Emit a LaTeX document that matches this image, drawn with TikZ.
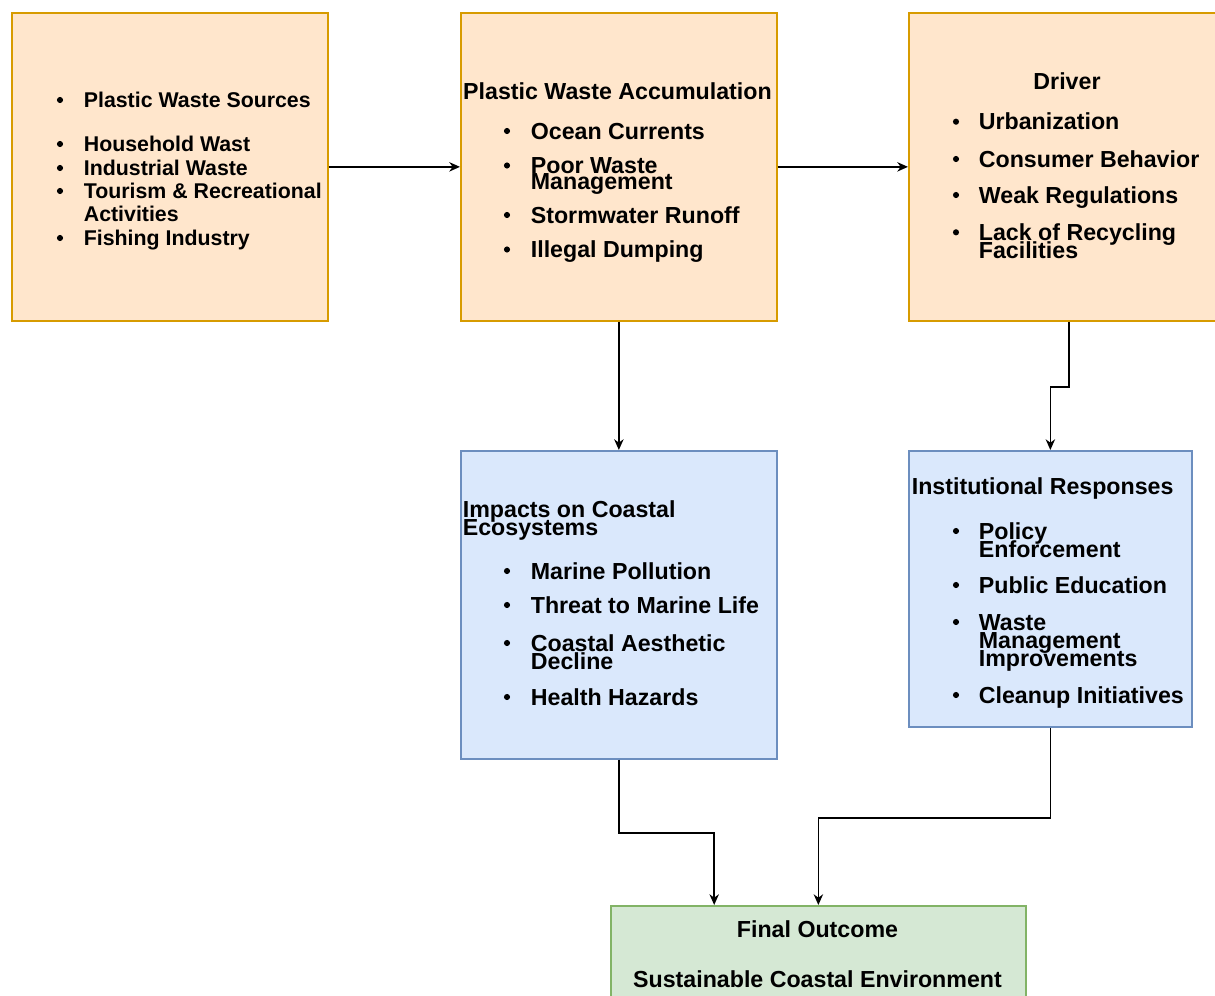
\documentclass[tikz,border=0pt]{standalone}
\usepackage{fontspec}
\setmainfont{Liberation Sans}
\usetikzlibrary{calc,arrows.meta}
\definecolor{orangefill}{HTML}{FFE6CC}
\definecolor{orangeline}{HTML}{D79B00}
\definecolor{bluefill}{HTML}{DAE8FC}
\definecolor{blueline}{HTML}{6C8EBF}
\definecolor{greenfill}{HTML}{D5E8D4}
\definecolor{greenline}{HTML}{82B366}

\begin{document}
\begin{tikzpicture}[x=0.75pt,y=-0.75pt,line width=1.3pt]
                \tikzstyle{box}=[rectangle,anchor=north west,inner sep=0pt,line width=1.3pt]
                \tikzstyle{orangebox}=[box,draw=orangeline,fill=orangefill,minimum width=237pt,minimum height=231pt]
                \tikzstyle{bluebox}=[box,draw=blueline,fill=bluefill]
                \tikzstyle{greenbox}=[box,draw=greenline,fill=greenfill]
                \tikzstyle{item}=[anchor=west,inner sep=0pt,text height=12.4pt,text depth=0pt,font=\bfseries\fontsize{17.4}{18}\selectfont]
                \tikzstyle{smallitem}=[item,text height=11.4pt,font=\bfseries\fontsize{16}{18}\selectfont]
                \tikzstyle{dot}=[circle,fill=black,inner sep=0pt,minimum size=4.6pt]
                \tikzstyle{link}=[-{Stealth[length=8pt,width=7pt,inset=2.5pt]}]
                \useasboundingbox (0,0) rectangle (1215,996);

                % boxes
                \node[orangebox] (Src) at (11,12) {};
                \node[orangebox] (Acc) at (460,12) {};
                \node[orangebox,minimum width=240pt] (Drv) at (908,12) {};
                \node[bluebox,minimum width=237pt,minimum height=231pt] (Imp) at (460,450) {};
                \node[bluebox,minimum width=212.25pt,minimum height=207pt] (Inst) at (908,450) {};
                \node[greenbox,minimum width=311.25pt,minimum height=82pt] (Out) at (610,905) {};

                % sources
                \foreach \y/\txt [count=\i] in {100/Plastic Waste Sources, 144/Household Wast, 168/Industrial Waste, 191/Tourism \& Recreational, 214/Activities, 238/Fishing Industry}
                    \node[smallitem] (Src-\i) at (83,\y) {\txt};
                \foreach \y [count=\i] in {100,144,168,191,238}
                    \node[dot] (Src-b\i) at (60,\y) {};

                % accumulation
                \node[item,anchor=center] (Acc-h) at (617.5,91.5) {Plastic Waste Accumulation};
                \foreach \y/\txt [count=\i] in {131/Ocean Currents, 165.5/Poor Waste, 181/Management, 215/Stormwater Runoff, 249.5/Illegal Dumping}
                    \node[item] (Acc-\i) at (530,\y) {\txt};
                \foreach \y [count=\i] in {131,165.5,215,249.5}
                    \node[dot] (Acc-b\i) at (507,\y) {};

                % driver
                \node[item,anchor=center] (Drv-h) at (1067,81.3) {Driver};
                \foreach \y/\txt [count=\i] in {121.7/Urbanization, 159/Consumer Behavior, 195/Weak Regulations, 232.3/Lack of Recycling, 250.3/Facilities}
                    \node[item] (Drv-\i) at (978,\y) {\txt};
                \foreach \y [count=\i] in {121.7,159,195,232.3}
                    \node[dot] (Drv-b\i) at (956,\y) {};

                % impacts
                \node[item] (Imp-h1) at (462,509) {Impacts on Coastal};
                \node[item] (Imp-h2) at (462,527) {Ecosystems};
                \foreach \y/\txt [count=\i] in {571/Marine Pollution, 605/Threat to Marine Life, 643/Coastal Aesthetic, 661/Decline, 697/Health Hazards}
                    \node[item] (Imp-\i) at (530,\y) {\txt};
                \foreach \y [count=\i] in {571,605,643,697}
                    \node[dot] (Imp-b\i) at (507,\y) {};

                % responses
                \node[item] (Inst-h) at (911,486) {Institutional Responses};
                \foreach \y/\txt [count=\i] in {531/Policy, 549/Enforcement, 585/Public Education, 622/Waste, 640/Management, 658/Improvements, 695/Cleanup Initiatives}
                    \node[item] (Inst-\i) at (978,\y) {\txt};
                \foreach \y [count=\i] in {531,585,622,695}
                    \node[dot] (Inst-b\i) at (956,\y) {};

                % outcome
                \node[item,anchor=center] (Out-1) at (817.5,929) {Final Outcome};
                \node[item,anchor=center] (Out-2) at (817.5,979) {Sustainable Coastal Environment};

                \draw[link] (Src) -- (Acc);
                \draw[link] (Acc) -- (Drv);
                \draw[link] (Acc) -- (Imp);
                \draw[link] (Drv.south) -- ++(0,65) -| (Inst.north);
                \draw[link] (Imp.south) -- ++(0,73) -| ($(Out.north west)!0.25!(Out.north east)$);
                \draw[link] (Inst.south) -- ++(0,90) -| (Out.north);
            \end{tikzpicture}
\end{document}
